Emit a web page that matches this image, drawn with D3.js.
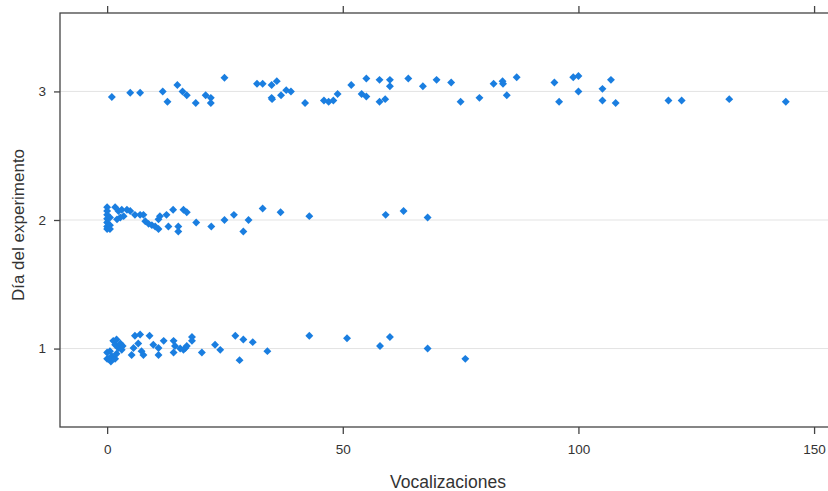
<!DOCTYPE html>
<html><head><meta charset="utf-8">
<script src="https://cdn.jsdelivr.net/npm/d3@7"></script>
<style>body{margin:0;background:#fff;} svg{display:block;font-family:"Liberation Sans",Arial,sans-serif;}</style>
</head><body>
<svg id="c" width="828" height="491"></svg>
<script>
// Day 3 values (vocalizations, jittered day position)
const day3X = [1.0,4.9,7.0,11.8,12.8,14.9,16.0,16.9,18.8,20.9,22.0,22.0,24.9,31.8,33.0,34.9,36.0,34.9,35.0,36.9,38.0,39.0,42.0,46.0,47.0,48.0,48.9,51.8,54.0,55.0,55.0,57.8,57.8,59.0,60.0,60.0,63.9,67.0,69.9,73.0,75.0,79.0,82.0,83.9,84.0,84.8,86.9,94.9,95.9,98.9,100.0,100.0,105.1,105.1,106.9,107.9,119.1,121.9,132.0,144.0];
const day3Y = [2.956,2.99,2.99,3.0,2.92,3.05,3.0,2.97,2.91,2.97,2.95,2.91,3.106,3.06,3.06,3.05,3.08,2.95,2.94,2.97,3.01,3.0,2.91,2.93,2.92,2.93,2.98,3.05,2.98,3.10,2.96,3.09,2.92,2.94,3.09,3.04,3.10,3.04,3.09,3.07,2.92,2.95,3.06,3.08,3.06,2.97,3.11,3.07,2.92,3.11,3.12,3.0,3.02,2.93,3.09,2.91,2.93,2.93,2.94,2.92];
// Day 2
const day2X = [0,0,0,0,0,0,0,0.6,0.6,0.6,1.7,2.4,3.1,4.2,3.5,2.8,2.1,4.9,5.9,7.0,7.7,8.1,8.8,9.5,10.2,10.9,10.9,11.2,12.6,14.0,13.0,15.1,15.1,16.2,16.9,18.9,22.1,24.9,26.9,28.9,30.0,33.0,36.8,42.9,59.1,62.9,68.0];
const day2Y = [2.10,2.07,2.04,2.01,1.98,1.95,1.93,2.02,1.96,1.93,2.10,2.07,2.08,2.08,2.03,2.02,2.005,2.07,2.04,2.04,2.04,1.99,1.97,1.96,1.95,1.93,2.005,2.03,2.04,2.08,1.95,1.95,1.91,2.08,2.06,1.98,1.95,2.0,2.04,1.91,2.0,2.09,2.06,2.03,2.04,2.07,2.02];
// Day 1
const day1X = [0,0,0.6,1.0,0.8,1.3,1.7,2.0,2.4,2.8,3.1,3.3,0.3,1.7,2.0,5.2,5.6,5.9,6.6,7.0,7.3,7.7,9.0,9.8,10.9,10.9,12.0,14.1,14.4,14.1,15.5,16.2,16.6,16.9,18.0,18.0,20.1,22.9,24.0,27.2,28.1,28.9,30.9,34.0,42.9,50.9,57.9,60.0,68.0,76.0];
const day1Y = [0.97,0.92,0.98,0.94,0.90,1.06,1.03,1.07,1.005,1.04,0.99,1.02,0.92,0.92,0.96,0.95,1.005,1.10,1.04,1.11,0.98,0.95,1.10,1.03,1.005,0.95,1.06,1.06,1.02,0.97,1.0,0.99,1.005,1.02,1.09,1.06,0.97,1.03,0.99,1.10,0.91,1.07,1.05,0.98,1.10,1.08,1.02,1.09,1.0,0.92];
const xTicks = [0,50,100,150];
const yTicks = [1,2,3];
const xTitle = "Vocalizaciones";
const yTitle = "Día del experimento";

const svg = d3.select("#c");
const L = 60, T = 13, B = 427;
const x = d3.scaleLinear().domain([-10,160]).range([L, L + 170*4.713]);
const y = d3.scaleLinear().domain([0.39,3.61]).range([B, T]);
const R = x.range()[1];

// gridlines
svg.append("g").selectAll("line").data(yTicks).join("line")
  .attr("x1",L).attr("x2",R).attr("y1",d=>y(d)).attr("y2",d=>y(d))
  .attr("stroke","#e3e3e3").attr("stroke-width",1);

const pts = [];
[[day1X,day1Y],[day2X,day2Y],[day3X,day3Y]].forEach(([xs,ys])=>xs.forEach((v,i)=>pts.push([v,ys[i]])));
const sym = d3.symbol().type(d3.symbolDiamond2).size(40);
svg.append("g").selectAll("path").data(pts).join("path")
  .attr("d",sym).attr("transform",d=>`translate(${x(d[0])},${y(d[1])})`)
  .attr("fill","#1a7ee0");

// frame
svg.append("rect").attr("x",L).attr("y",T).attr("width",R-L).attr("height",B-T)
  .attr("fill","none").attr("stroke","#444").attr("stroke-width",1.3);

// axes
const gBottom = svg.append("g").attr("transform",`translate(0,${B})`)
  .call(d3.axisBottom(x).tickValues(xTicks).tickSize(7).tickPadding(10).tickFormat(d3.format("d")));
const gTop = svg.append("g").attr("transform",`translate(0,${T})`)
  .call(d3.axisTop(x).tickValues(xTicks).tickSize(7).tickFormat(""));
const gLeft = svg.append("g").attr("transform",`translate(${L},0)`)
  .call(d3.axisLeft(y).tickValues(yTicks).tickSize(6).tickPadding(8).tickFormat(d3.format("d")));
[gBottom,gTop,gLeft].forEach(g=>{
  g.select(".domain").remove();
  g.selectAll(".tick line").attr("stroke","#444").attr("stroke-width",1.3);
  g.selectAll("text").attr("fill","#333").attr("font-size",13.5).attr("font-family","Liberation Sans, Arial, sans-serif");
});

svg.append("text").attr("x",448).attr("y",488).attr("text-anchor","middle")
  .attr("font-size",17.5).attr("fill","#333").text(xTitle);
svg.append("text").attr("transform",`translate(24,225) rotate(-90)`).attr("text-anchor","middle")
  .attr("font-size",17).attr("fill","#333").text(yTitle);
</script>
</body></html>
